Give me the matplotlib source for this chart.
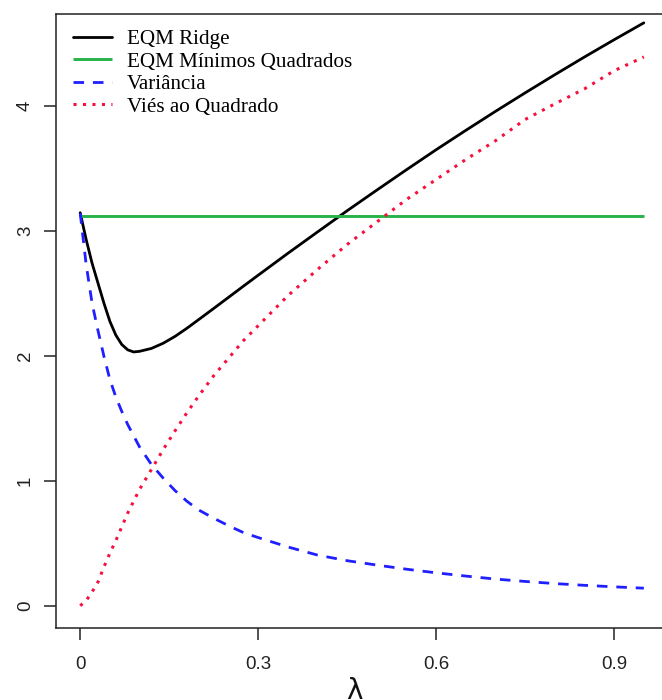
import matplotlib
matplotlib.use("Agg")
import matplotlib.pyplot as plt

# ---- data ----
lam = [0, 0.01, 0.02, 0.03, 0.04, 0.05, 0.06, 0.07, 0.08, 0.09, 0.10,
       0.12, 0.14, 0.16, 0.18, 0.20, 0.225, 0.25, 0.275, 0.30, 0.35,
       0.40, 0.45, 0.50, 0.55, 0.60, 0.65, 0.70, 0.75, 0.80, 0.85, 0.90, 0.95]

eqm_ridge = [3.144, 2.93, 2.74, 2.58, 2.42, 2.275, 2.165, 2.09, 2.047, 2.03, 2.035,
             2.058, 2.10, 2.155, 2.22, 2.29, 2.378, 2.467, 2.556, 2.644, 2.819,
             2.99, 3.16, 3.325, 3.488, 3.648, 3.803, 3.955, 4.103, 4.248, 4.39, 4.528, 4.663]

variancia = [3.14, 2.73, 2.42, 2.20, 1.995, 1.81, 1.67, 1.555, 1.45, 1.36, 1.27,
             1.13, 1.02, 0.92, 0.835, 0.765, 0.70, 0.64, 0.585, 0.545, 0.47,
             0.405, 0.36, 0.325, 0.292, 0.263, 0.237, 0.213, 0.194, 0.177, 0.163, 0.151, 0.14]

vies2 = [0.0, 0.04, 0.11, 0.19, 0.31, 0.42, 0.52, 0.63, 0.74, 0.835, 0.93,
         1.09, 1.25, 1.40, 1.545, 1.68, 1.84, 1.98, 2.12, 2.24, 2.48,
         2.69, 2.89, 3.07, 3.25, 3.41, 3.57, 3.72, 3.89, 4.015, 4.135, 4.28, 4.39]

eqm_mq = 3.12

labels = ["EQM Ridge", "EQM Mínimos Quadrados", "Variância", "Viés ao Quadrado"]
xticks = [0, 0.3, 0.6, 0.9]
xticklabels = ["0", "0.3", "0.6", "0.9"]
yticks = [0, 1, 2, 3, 4]
yticklabels = ["0", "1", "2", "3", "4"]

# ---- figure ----
W, H = 662, 700
fig = plt.figure(figsize=(W / 100, H / 100), dpi=100)
left_px, right_px, top_px, bottom_px = 56, 666.4, 14, 628.3
ax = fig.add_axes([left_px / W, 1 - bottom_px / H,
                   (right_px - left_px) / W, (bottom_px - top_px) / H])

c_black = "black"
c_green = "#27b34a"
c_blue = "#1f1fff"
c_red = "#f5103e"

ax.plot(lam, eqm_ridge, color=c_black, lw=2.0, solid_capstyle="round",
        solid_joinstyle="round", label=labels[0])
ax.plot([lam[0], lam[-1]], [eqm_mq, eqm_mq], color=c_green, lw=2.1,
        solid_capstyle="butt", label=labels[1])
ax.plot(lam, variancia, color=c_blue, lw=2.0, linestyle=(0, (3.8, 3.2)),
        label=labels[2])
ax.plot(lam, vies2, color=c_red, lw=2.2, linestyle=(0, (1, 2.1)),
        label=labels[3])

ax.set_xlim(-0.0408, 0.988)
ax.set_ylim(-0.1808, 4.7336)

for s in ax.spines.values():
    s.set_linewidth(1.1)
    s.set_color("#222222")

tick_font = {"family": "Liberation Sans", "size": 13.5}
ax.set_xticks(xticks)
ax.set_xticklabels(xticklabels, fontdict=tick_font)
ax.set_yticks(yticks)
ax.set_yticklabels(yticklabels, fontdict=tick_font, rotation=90, va="center")
ax.tick_params(axis="x", length=8.8, width=1.1, pad=11.5, colors="#222222",
               labelcolor="#222222")
ax.tick_params(axis="y", length=8.3, width=1.1, pad=7.5, colors="#222222",
               labelcolor="#222222")

leg = ax.legend(loc="upper left", bbox_to_anchor=(73 / W, 1 - 29.5 / H),
                bbox_transform=fig.transFigure, frameon=False,
                prop={"family": "Liberation Serif", "size": 15.2},
                handlelength=1.85, handletextpad=0.7, labelspacing=0.13,
                borderpad=0, borderaxespad=0)

fig.text(354 / W, 1 - 677 / H, "λ", ha="center", va="top",
         fontsize=20, family="DejaVu Sans", color="#111111")

fig.savefig("out.png", dpi=100)
